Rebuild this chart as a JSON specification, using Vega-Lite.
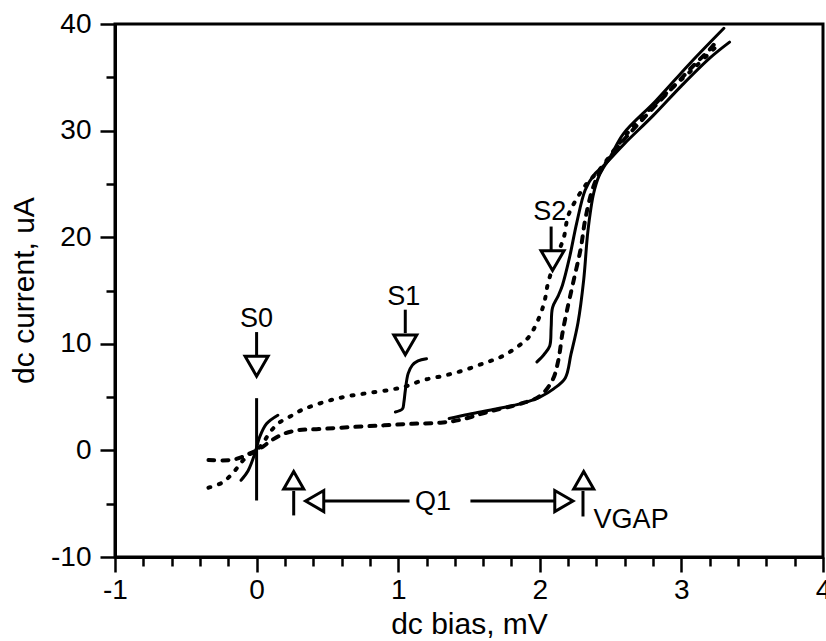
{
  "$schema": "https://vega.github.io/schema/vega-lite/v6.json",
  "width": 708,
  "height": 533,
  "autosize": "none",
  "padding": {"left": 115, "top": 24, "right": 3, "bottom": 84},
  "background": "white",
  "config": {
    "view": {"stroke": "black", "strokeWidth": 3},
    "font": "Liberation Sans",
    "axis": {
      "grid": false,
      "domainColor": "black",
      "domainWidth": 3,
      "tickColor": "black",
      "tickWidth": 2.5,
      "labelColor": "black",
      "titleColor": "black",
      "labelFont": "Liberation Sans",
      "titleFont": "Liberation Sans",
      "labelFontSize": 28,
      "titleFontSize": 30,
      "titleFontWeight": "normal",
      "labelFlush": false,
      "labelBound": false,
      "labelOverlap": false
    }
  },
  "resolve": {"axis": {"x": "independent", "y": "independent"}},
  "datasets": {
    "curves": [
      {"s": "A", "i": 1, "v": -0.34, "c": -3.5},
      {"s": "A", "i": 2, "v": -0.24, "c": -3.0},
      {"s": "A", "i": 3, "v": -0.16, "c": -2.0},
      {"s": "A", "i": 4, "v": -0.1, "c": -1.0},
      {"s": "A", "i": 5, "v": -0.04, "c": -0.3},
      {"s": "A", "i": 6, "v": 0.0, "c": 0.0},
      {"s": "A", "i": 7, "v": 0.05, "c": 0.8},
      {"s": "A", "i": 8, "v": 0.1, "c": 1.8},
      {"s": "A", "i": 9, "v": 0.16, "c": 2.6},
      {"s": "A", "i": 10, "v": 0.24, "c": 3.2},
      {"s": "A", "i": 11, "v": 0.32, "c": 3.8},
      {"s": "A", "i": 12, "v": 0.4, "c": 4.2},
      {"s": "A", "i": 13, "v": 0.52, "c": 4.7},
      {"s": "A", "i": 14, "v": 0.65, "c": 5.1},
      {"s": "A", "i": 15, "v": 0.8, "c": 5.4},
      {"s": "A", "i": 16, "v": 0.95, "c": 5.7},
      {"s": "A", "i": 17, "v": 1.05, "c": 6.0},
      {"s": "A", "i": 18, "v": 1.18, "c": 6.6},
      {"s": "A", "i": 19, "v": 1.32, "c": 7.0},
      {"s": "A", "i": 20, "v": 1.46, "c": 7.5},
      {"s": "A", "i": 21, "v": 1.61, "c": 8.2},
      {"s": "A", "i": 22, "v": 1.73, "c": 8.8},
      {"s": "A", "i": 23, "v": 1.84, "c": 9.7},
      {"s": "A", "i": 24, "v": 1.92, "c": 10.6},
      {"s": "A", "i": 25, "v": 1.98, "c": 12.0},
      {"s": "A", "i": 26, "v": 2.03, "c": 13.8},
      {"s": "A", "i": 27, "v": 2.06, "c": 15.8},
      {"s": "A", "i": 28, "v": 2.12, "c": 18.2},
      {"s": "A", "i": 29, "v": 2.17, "c": 20.0},
      {"s": "A", "i": 30, "v": 2.2, "c": 22.0},
      {"s": "A", "i": 31, "v": 2.26, "c": 23.6},
      {"s": "A", "i": 32, "v": 2.33, "c": 25.0},
      {"s": "A", "i": 33, "v": 2.42, "c": 26.3},
      {"s": "A", "i": 34, "v": 2.56, "c": 28.8},
      {"s": "A", "i": 35, "v": 2.7, "c": 31.0},
      {"s": "A", "i": 36, "v": 2.9, "c": 33.6},
      {"s": "A", "i": 37, "v": 3.1, "c": 36.0},
      {"s": "A", "i": 38, "v": 3.27, "c": 38.2},

      {"s": "B", "i": 1, "v": -0.34, "c": -0.9},
      {"s": "B", "i": 2, "v": -0.18, "c": -0.9},
      {"s": "B", "i": 3, "v": -0.1, "c": -0.6},
      {"s": "B", "i": 4, "v": -0.05, "c": -0.3},
      {"s": "B", "i": 5, "v": 0.0, "c": 0.0},
      {"s": "B", "i": 6, "v": 0.05, "c": 0.4},
      {"s": "B", "i": 7, "v": 0.1, "c": 0.9},
      {"s": "B", "i": 8, "v": 0.2, "c": 1.6},
      {"s": "B", "i": 9, "v": 0.3, "c": 1.9},
      {"s": "B", "i": 10, "v": 0.44, "c": 2.0},
      {"s": "B", "i": 11, "v": 0.68, "c": 2.2},
      {"s": "B", "i": 12, "v": 0.9, "c": 2.35},
      {"s": "B", "i": 13, "v": 1.1, "c": 2.5},
      {"s": "B", "i": 14, "v": 1.3, "c": 2.6},
      {"s": "B", "i": 15, "v": 1.45, "c": 2.9},
      {"s": "B", "i": 16, "v": 1.63, "c": 3.6},
      {"s": "B", "i": 17, "v": 1.87, "c": 4.4},
      {"s": "B", "i": 18, "v": 2.0, "c": 5.1},
      {"s": "B", "i": 19, "v": 2.09, "c": 6.6},
      {"s": "B", "i": 20, "v": 2.13, "c": 8.4},
      {"s": "B", "i": 21, "v": 2.16, "c": 11.0},
      {"s": "B", "i": 22, "v": 2.19, "c": 13.0},
      {"s": "B", "i": 23, "v": 2.24, "c": 16.0},
      {"s": "B", "i": 24, "v": 2.29, "c": 19.0},
      {"s": "B", "i": 25, "v": 2.32, "c": 21.6},
      {"s": "B", "i": 26, "v": 2.37, "c": 24.4},
      {"s": "B", "i": 27, "v": 2.42, "c": 26.0},
      {"s": "B", "i": 28, "v": 2.56, "c": 28.6},
      {"s": "B", "i": 29, "v": 2.75, "c": 31.4},
      {"s": "B", "i": 30, "v": 2.95, "c": 34.2},
      {"s": "B", "i": 31, "v": 3.1, "c": 36.3},
      {"s": "B", "i": 32, "v": 3.2, "c": 37.6},
      {"s": "B", "i": 33, "v": 3.26, "c": 38.6},

      {"s": "C", "i": 1, "v": 1.36, "c": 3.0},
      {"s": "C", "i": 2, "v": 1.5, "c": 3.4},
      {"s": "C", "i": 3, "v": 1.7, "c": 3.9},
      {"s": "C", "i": 4, "v": 1.9, "c": 4.5},
      {"s": "C", "i": 5, "v": 2.0, "c": 5.0},
      {"s": "C", "i": 6, "v": 2.1, "c": 5.8},
      {"s": "C", "i": 7, "v": 2.18, "c": 6.8},
      {"s": "C", "i": 8, "v": 2.22, "c": 9.0},
      {"s": "C", "i": 9, "v": 2.27, "c": 12.0},
      {"s": "C", "i": 10, "v": 2.31, "c": 16.0},
      {"s": "C", "i": 11, "v": 2.34, "c": 20.6},
      {"s": "C", "i": 12, "v": 2.38, "c": 24.1},
      {"s": "C", "i": 13, "v": 2.42, "c": 25.8},
      {"s": "C", "i": 14, "v": 2.5, "c": 27.6},
      {"s": "C", "i": 15, "v": 2.59, "c": 29.7},
      {"s": "C", "i": 16, "v": 2.82, "c": 32.8},
      {"s": "C", "i": 17, "v": 3.06, "c": 36.3},
      {"s": "C", "i": 18, "v": 3.3, "c": 39.6},

      {"s": "E", "i": 1, "v": 1.98, "c": 8.3},
      {"s": "E", "i": 2, "v": 2.03, "c": 9.0},
      {"s": "E", "i": 3, "v": 2.07, "c": 9.8},
      {"s": "E", "i": 4, "v": 2.08, "c": 11.5},
      {"s": "E", "i": 5, "v": 2.09, "c": 13.4},
      {"s": "E", "i": 6, "v": 2.13, "c": 14.5},
      {"s": "E", "i": 7, "v": 2.16, "c": 15.5},
      {"s": "E", "i": 8, "v": 2.21, "c": 18.1},
      {"s": "E", "i": 9, "v": 2.26, "c": 21.3},
      {"s": "E", "i": 10, "v": 2.32, "c": 24.4},
      {"s": "E", "i": 11, "v": 2.38, "c": 25.8},
      {"s": "E", "i": 12, "v": 2.45, "c": 26.7},
      {"s": "E", "i": 13, "v": 2.6, "c": 28.8},
      {"s": "E", "i": 14, "v": 2.8, "c": 31.4},
      {"s": "E", "i": 15, "v": 3.0, "c": 34.2},
      {"s": "E", "i": 16, "v": 3.2, "c": 36.8},
      {"s": "E", "i": 17, "v": 3.34, "c": 38.3},

      {"s": "S0", "i": 1, "v": -0.11, "c": -2.8},
      {"s": "S0", "i": 2, "v": -0.06, "c": -1.9},
      {"s": "S0", "i": 3, "v": -0.01, "c": -0.2},
      {"s": "S0", "i": 4, "v": 0.02, "c": 1.2},
      {"s": "S0", "i": 5, "v": 0.07, "c": 2.5},
      {"s": "S0", "i": 6, "v": 0.15, "c": 3.3},

      {"s": "S1", "i": 1, "v": 0.98, "c": 3.6},
      {"s": "S1", "i": 2, "v": 1.03, "c": 3.9},
      {"s": "S1", "i": 3, "v": 1.04, "c": 4.5},
      {"s": "S1", "i": 4, "v": 1.05, "c": 5.6},
      {"s": "S1", "i": 5, "v": 1.07, "c": 7.2},
      {"s": "S1", "i": 6, "v": 1.1, "c": 8.0},
      {"s": "S1", "i": 7, "v": 1.14, "c": 8.4},
      {"s": "S1", "i": 8, "v": 1.2, "c": 8.6}
    ],
    "shafts": [
      {"v": 0.0, "c": -4.7, "v2": 0.0, "c2": 4.9},
      {"v": 0.0, "c": 11.1, "v2": 0.0, "c2": 8.9},
      {"v": 1.05, "c": 13.2, "v2": 1.05, "c2": 11.0},
      {"v": 2.08, "c": 21.0, "v2": 2.08, "c2": 18.6},
      {"v": 0.262, "c": -6.1, "v2": 0.262, "c2": -3.8},
      {"v": 2.305, "c": -6.2, "v2": 2.305, "c2": -3.8},
      {"v": 0.47, "c": -4.75, "v2": 1.08, "c2": -4.75},
      {"v": 1.51, "c": -4.75, "v2": 2.1, "c2": -4.75}
    ],
    "heads": [
      {"dir": "down", "v": 0.0, "c": 7.9},
      {"dir": "down", "v": 1.05, "c": 9.9},
      {"dir": "down", "v": 2.09, "c": 17.8},
      {"dir": "up", "v": 0.262, "c": -2.8},
      {"dir": "up", "v": 2.31, "c": -2.8},
      {"dir": "left", "v": 0.41, "c": -4.75},
      {"dir": "right", "v": 2.17, "c": -4.75}
    ],
    "labels": [
      {"t": "S0", "v": 0.0, "c": 12.3, "side": "center"},
      {"t": "S1", "v": 1.04, "c": 14.4, "side": "center"},
      {"t": "S2", "v": 2.07, "c": 22.4, "side": "center"},
      {"t": "Q1", "v": 1.245, "c": -4.8, "side": "center"},
      {"t": "VGAP", "v": 2.38, "c": -6.55, "side": "left"}
    ]
  },
  "layer": [
    {
      "data": {"name": "curves"},
      "transform": [{"filter": "datum.s === 'A'"}],
      "mark": {"type": "line", "color": "black", "strokeWidth": 4, "strokeDash": [2, 9], "strokeCap": "round", "interpolate": "catmull-rom"},
      "encoding": {
        "x": {
          "field": "v", "type": "quantitative",
          "scale": {"domain": [-1, 4], "nice": false, "zero": false},
          "axis": {
            "orient": "bottom",
            "values": [-1, 0, 1, 2, 3, 4],
            "tickSize": 15,
            "labelExpr": "'' + datum.value",
            "labelPadding": 4,
            "title": "dc bias, mV",
            "titleY": 76,
            "titleBaseline": "alphabetic"
          }
        },
        "y": {
          "field": "c", "type": "quantitative",
          "scale": {"domain": [-10, 40], "nice": false, "zero": false},
          "axis": {
            "orient": "left",
            "values": [-10, 0, 10, 20, 30, 40],
            "tickSize": 15,
            "labelExpr": "'' + datum.value",
            "labelPadding": 9,
            "title": "dc current, uA",
            "titleX": -82,
            "titleY": 266,
            "titleAlign": "center",
            "titleBaseline": "alphabetic"
          }
        },
        "order": {"field": "i", "type": "quantitative"}
      }
    },
    {
      "data": {"name": "curves"},
      "transform": [{"filter": "datum.s === 'B'"}],
      "mark": {"type": "line", "color": "black", "strokeWidth": 4, "strokeDash": [6, 8], "strokeCap": "round", "interpolate": "catmull-rom"},
      "encoding": {
        "x": {
          "field": "v", "type": "quantitative",
          "axis": {
            "orient": "bottom",
            "values": [-0.8, -0.6, -0.4, -0.2, 0.2, 0.4, 0.6, 0.8, 1.2, 1.4, 1.6, 1.8, 2.2, 2.4, 2.6, 2.8, 3.2, 3.4, 3.6, 3.8],
            "tickSize": 9,
            "labels": false,
            "domain": false,
            "title": null
          }
        },
        "y": {
          "field": "c", "type": "quantitative",
          "axis": {
            "orient": "left",
            "values": [-5, 5, 15, 25, 35],
            "tickSize": 9,
            "labels": false,
            "domain": false,
            "title": null
          }
        },
        "order": {"field": "i", "type": "quantitative"}
      }
    },
    {
      "data": {"name": "curves"},
      "transform": [{"filter": "datum.s !== 'A' && datum.s !== 'B'"}],
      "mark": {"type": "line", "color": "black", "strokeWidth": 3, "strokeCap": "round", "strokeJoin": "round", "interpolate": "catmull-rom"},
      "encoding": {
        "x": {"field": "v", "type": "quantitative", "axis": null},
        "y": {"field": "c", "type": "quantitative", "axis": null},
        "detail": {"field": "s", "type": "nominal"},
        "order": {"field": "i", "type": "quantitative"}
      }
    },
    {
      "data": {"name": "shafts"},
      "mark": {"type": "rule", "color": "black", "strokeWidth": 3},
      "encoding": {
        "x": {"field": "v", "type": "quantitative", "axis": null},
        "y": {"field": "c", "type": "quantitative", "axis": null},
        "x2": {"field": "v2"},
        "y2": {"field": "c2"}
      }
    },
    {
      "data": {"name": "heads"},
      "transform": [{"filter": "datum.dir === 'down'"}],
      "mark": {"type": "point", "shape": "triangle-down", "size": 529, "filled": true, "fill": "white", "stroke": "black", "strokeWidth": 3, "opacity": 1},
      "encoding": {
        "x": {"field": "v", "type": "quantitative", "axis": null},
        "y": {"field": "c", "type": "quantitative", "axis": null}
      }
    },
    {
      "data": {"name": "heads"},
      "transform": [{"filter": "datum.dir === 'up'"}],
      "mark": {"type": "point", "shape": "triangle-up", "size": 400, "filled": true, "fill": "white", "stroke": "black", "strokeWidth": 3, "opacity": 1},
      "encoding": {
        "x": {"field": "v", "type": "quantitative", "axis": null},
        "y": {"field": "c", "type": "quantitative", "axis": null}
      }
    },
    {
      "data": {"name": "heads"},
      "transform": [{"filter": "datum.dir === 'left'"}],
      "mark": {"type": "point", "shape": "triangle-left", "size": 441, "filled": true, "fill": "white", "stroke": "black", "strokeWidth": 3, "opacity": 1},
      "encoding": {
        "x": {"field": "v", "type": "quantitative", "axis": null},
        "y": {"field": "c", "type": "quantitative", "axis": null}
      }
    },
    {
      "data": {"name": "heads"},
      "transform": [{"filter": "datum.dir === 'right'"}],
      "mark": {"type": "point", "shape": "triangle-right", "size": 441, "filled": true, "fill": "white", "stroke": "black", "strokeWidth": 3, "opacity": 1},
      "encoding": {
        "x": {"field": "v", "type": "quantitative", "axis": null},
        "y": {"field": "c", "type": "quantitative", "axis": null}
      }
    },
    {
      "data": {"name": "labels"},
      "transform": [{"filter": "datum.side === 'center'"}],
      "mark": {"type": "text", "font": "Liberation Sans", "fontSize": 27, "color": "black", "align": "center", "baseline": "middle"},
      "encoding": {
        "x": {"field": "v", "type": "quantitative", "axis": null},
        "y": {"field": "c", "type": "quantitative", "axis": null},
        "text": {"field": "t"}
      }
    },
    {
      "data": {"name": "labels"},
      "transform": [{"filter": "datum.side === 'left'"}],
      "mark": {"type": "text", "font": "Liberation Sans", "fontSize": 27, "color": "black", "align": "left", "baseline": "middle"},
      "encoding": {
        "x": {"field": "v", "type": "quantitative", "axis": null},
        "y": {"field": "c", "type": "quantitative", "axis": null},
        "text": {"field": "t"}
      }
    }
  ]
}
